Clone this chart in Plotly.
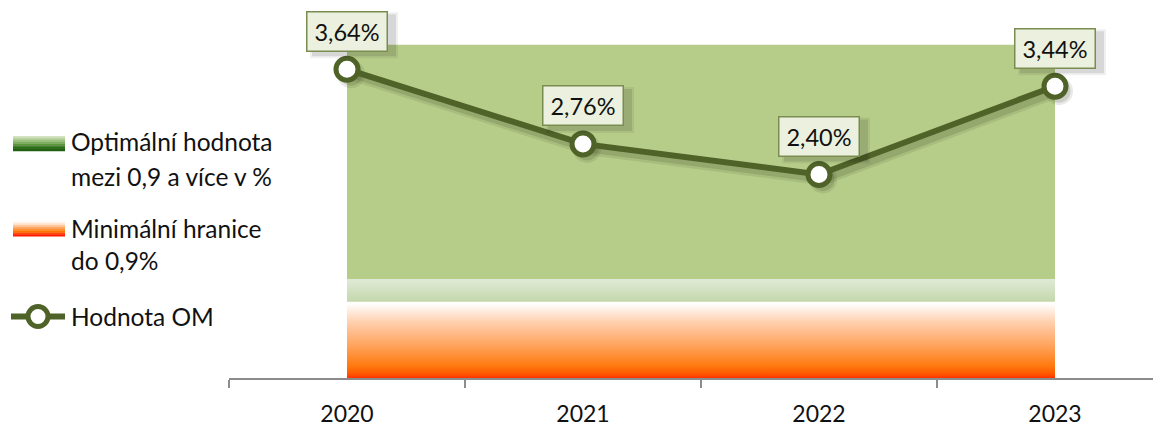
import plotly.graph_objects as go

years = ["2020", "2021", "2022", "2023"]
om_values = [3.64, 2.76, 2.40, 3.44]
min_limit = [0.9, 0.9, 0.9, 0.9]
optimal_band = [3.03, 3.03, 3.03, 3.03]
legend_names = ["Optimální hodnota<br>mezi 0,9 a více v %", "Minimální hranice<br>do 0,9%", "Hodnota OM"]

OFF = 8  # page body margin
W, H = 1153, 419
ML, MR, MT, MB = 221, 0, 0, 46
PW, PH = W - ML - MR, H - MT - MB
SCALE = 85.5  # px per unit
XMAX = -0.5 + PW / 236.0


def px(x):
    return (x - OFF - ML) / PW


def py(y):
    return (OFF + MT + PH - y) / PH


FONT = "Lato"
OLIVE = "#4F6228"

top_values = [a + b for a, b in zip(min_limit, optimal_band)]
band_lo = min(min_limit)
band_hi = max(top_values)
edge = (1.19 - band_lo) / (band_hi - band_lo)

fig = go.Figure()
fig.add_trace(go.Scatter(
    x=years, y=min_limit, mode="lines", line=dict(width=0), fill="tozeroy",
    fillgradient=dict(type="vertical", start=0, stop=band_lo,
                      colorscale=[[0, "#FF1A00"], [0.1, "#FF5A00"], [0.2, "#FF7A10"],
                                  [0.45, "#FFA25A"], [0.75, "#FFCDAA"], [0.97, "#FFF8F2"], [1, "#FFFFFF"]]),
    showlegend=False, hoverinfo="skip"))
fig.add_trace(go.Scatter(
    x=years, y=top_values, mode="lines", line=dict(width=0), fill="tonexty",
    fillgradient=dict(type="vertical", start=band_lo, stop=band_hi,
                      colorscale=[[0, "#C0D5A6"], [edge, "#E0EAD6"], [edge + 0.002, "#B6CD89"],
                                  [1, "#B6CD89"]]),
    showlegend=False, hoverinfo="skip"))

idx = list(range(len(years)))
sh_y = [v - 5 / SCALE for v in om_values]
sh_x = [i + 4 / 236.0 for i in idx]
fig.add_trace(go.Scatter(x=sh_x, y=sh_y, xaxis="x2", mode="lines+markers",
                         line=dict(color="rgba(40,50,20,0.10)", width=12),
                         marker=dict(size=28, color="rgba(40,50,20,0.10)"),
                         showlegend=False, hoverinfo="skip"))
fig.add_trace(go.Scatter(x=sh_x, y=sh_y, xaxis="x2", mode="lines+markers",
                         line=dict(color="rgba(40,50,20,0.15)", width=7),
                         marker=dict(size=23, color="rgba(40,50,20,0.15)"),
                         showlegend=False, hoverinfo="skip"))
fig.add_trace(go.Scatter(
    x=idx, y=om_values, xaxis="x2", mode="lines+markers",
    line=dict(color=OLIVE, width=6),
    marker=dict(size=22, color="white", line=dict(color=OLIVE, width=5)),
    showlegend=False, hoverinfo="skip"))

shapes = []
for i, v in zip(idx, om_values):
    for grow, alpha in [(3, 0.06), (1, 0.10)]:
        shapes.append(dict(type="rect", xref="x2", yref="y", xsizemode="pixel", ysizemode="pixel",
                           xanchor=i, yanchor=v, x0=-38 - grow + 4, x1=44 + grow + 4,
                           y0=18 - grow - 4, y1=58 + grow - 4,
                           fillcolor=f"rgba(0,0,0,{alpha})", line=dict(width=0), layer="above"))
    fig.add_annotation(x=i, y=v, xref="x2", text=f"{v:.2f}".replace(".", ",") + "%", showarrow=False,
                       yshift=38, font=dict(family=FONT, size=23.5, color="#111111"),
                       width=67, height=26,
                       bgcolor="#EBF1DE", bordercolor="#7A8C50", borderwidth=1.5, borderpad=6)

# legend swatch: green gradient
green_steps = ["#D5E3C4", "#B9D2A0", "#9CC07E", "#7FAE5E", "#5E9740", "#45812B", "#2F6E1C", "#226114"]
n = len(green_steps)
for i, c in enumerate(green_steps):
    y0 = 137 + i * 15 / n
    shapes.append(dict(type="rect", xref="paper", yref="paper", x0=px(13), x1=px(65),
                       y0=py(y0), y1=py(y0 + 15 / n + 0.3), fillcolor=c, line=dict(width=0), layer="above"))
orange_steps = ["#FFF6F0", "#FFE0C8", "#FFC79E", "#FFAA6A", "#FF8E34", "#FF7200", "#FF4A00", "#FF1A00"]
for i, c in enumerate(orange_steps):
    y0 = 223 + i * 15 / n
    shapes.append(dict(type="rect", xref="paper", yref="paper", x0=px(13), x1=px(65),
                       y0=py(y0), y1=py(y0 + 15 / n + 0.3), fillcolor=c, line=dict(width=0), layer="above"))
shapes.append(dict(type="line", xref="paper", yref="paper", x0=px(11), x1=px(65), y0=py(319), y1=py(319),
                   line=dict(color=OLIVE, width=6), layer="above"))
shapes.append(dict(type="circle", xref="paper", yref="paper", x0=px(28), x1=px(48), y0=py(309), y1=py(329),
                   fillcolor="white", line=dict(color=OLIVE, width=5), layer="above"))
fig.update_layout(shapes=shapes)

legend_line_y = [[143, 178], [230, 263], [319]]
for name, ys in zip(legend_names, legend_line_y):
    for line, yy in zip(name.split("<br>"), ys):
        fig.add_annotation(xref="paper", yref="paper", x=px(69), y=py(yy), xanchor="left", yanchor="middle",
                           text=line, showarrow=False, align="left",
                           font=dict(family=FONT, size=24.5, color="#111111"))

fig.update_layout(
    width=W, height=H, margin=dict(l=ML, r=MR, t=MT, b=MB),
    paper_bgcolor="white", plot_bgcolor="white",
    xaxis=dict(type="category", range=[-0.5, XMAX], showgrid=False, zeroline=False,
               showline=True, linecolor="#8C8C8C", linewidth=2,
               ticks="outside", tickson="boundaries", ticklen=8, tickwidth=2, tickcolor="#8C8C8C",
               ticklabelstandoff=14,
               tickfont=dict(family=FONT, size=23, color="#111111")),
    xaxis2=dict(overlaying="x", range=[-0.5, XMAX], visible=False, showgrid=False, zeroline=False),
    yaxis=dict(range=[0, PH / SCALE], visible=False, showgrid=False, zeroline=False),
)

fig.write_html("out.html")
